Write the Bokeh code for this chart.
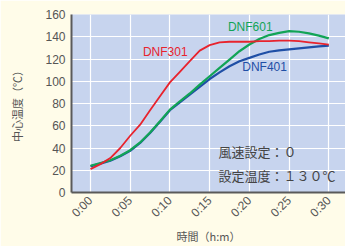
import math
from bokeh.plotting import figure
from bokeh.models import FixedTicker, Label, Range1d
from bokeh.embed import file_html
from bokeh.resources import INLINE

minutes = [0, 1.25, 2.5, 3.75, 5, 6.25, 7.5, 8.75, 10, 11.25, 12.5, 13.75, 15,
           16.25, 17.5, 18.75, 20, 21.25, 22.5, 23.75, 25, 26.25, 27.5, 28.75, 30]
dnf301 = [21, 25.5, 31, 40, 51, 61, 74, 86.5, 99, 108.5, 118, 127.5, 132.5,
          135, 135.5, 135.5, 135.5, 136, 136, 136.5, 136.5, 136, 135, 134, 133]
dnf601 = [24, 26.5, 29, 33, 38, 45, 54, 64, 74.5, 82, 89, 97, 104.5,
          112, 119.5, 127, 133, 138, 141.5, 143.5, 145, 144.5, 143, 141, 138.5]
dnf401 = [23.5, 26, 28.5, 32.5, 37.5, 44.5, 53.5, 63.5, 74, 81, 88, 95, 102,
          108, 113.5, 118, 121, 124, 126.5, 127.8, 128.7, 129.6, 130.5, 131.3, 132]
x_ticks = [0, 5, 10, 15, 20, 25, 30]
x_tick_labels = ["0:00", "0:05", "0:10", "0:15", "0:20", "0:25", "0:30"]
y_ticks = [0, 20, 40, 60, 80, 100, 120, 140, 160]

RED = "#E8232D"
GREEN = "#12A456"
BLUE = "#1F4FA6"
TXT = "#555555"
LATIN = "Liberation Sans"
CJK = "Noto Sans CJK JP"

p = figure(width=345, height=246, output_backend="svg", toolbar_location=None,
           x_range=Range1d(-2.39, 32.1), y_range=Range1d(0, 160),
           min_border_left=71, min_border_right=0, min_border_top=14, min_border_bottom=54)
p.background_fill_color = "#C7D4EE"
p.border_fill_color = "#FFFCE9"
p.outline_line_color = None

p.xaxis.ticker = FixedTicker(ticks=x_ticks)
p.xaxis.major_label_overrides = {t: l for t, l in zip(x_ticks, x_tick_labels)}
p.xaxis.major_label_orientation = math.pi / 4
p.yaxis.ticker = FixedTicker(ticks=y_ticks)

for ax in (p.xaxis, p.yaxis):
    ax.axis_line_color = "#5A5A5A"
    ax.axis_line_width = 2
    ax.major_tick_line_color = None
    ax.minor_tick_line_color = None
    ax.major_tick_out = 0
    ax.major_tick_in = 0
    ax.major_label_text_font = LATIN
    ax.major_label_text_font_size = "12px"
    ax.major_label_text_color = TXT
    ax.axis_label_text_font = CJK
    ax.axis_label_text_font_size = "11px"
    ax.axis_label_text_font_style = "normal"
    ax.axis_label_text_color = TXT

p.xaxis.major_label_standoff = 6
p.yaxis.major_label_standoff = 6
p.yaxis.axis_label = "中心温度（℃）"
p.yaxis.axis_label_standoff = 17
p.xaxis.axis_label = "時間（h:m）"
p.xaxis.axis_label_standoff = 0

p.xgrid.grid_line_color = "white"
p.ygrid.grid_line_color = "white"
p.xgrid.grid_line_width = 1.2
p.ygrid.grid_line_width = 1.2

p.line(minutes, dnf401, line_color=BLUE, line_width=2.2)
p.line(minutes, dnf601, line_color=GREEN, line_width=2.2)
p.line(minutes, dnf301, line_color=RED, line_width=1.8)

for txt, x, y, c in [("DNF301", 6.6, 126, RED), ("DNF601", 17.3, 149, GREEN), ("DNF401", 19.1, 112.4, BLUE)]:
    p.add_layout(Label(x=x, y=y, text=txt, text_color=c, text_font=LATIN,
                       text_font_size="12px", text_baseline="middle"))

for txt, y in [("風速設定：０", 36.8), ("設定温度：１３０℃", 14.9)]:
    p.add_layout(Label(x=16.1, y=y, text=txt, text_color="#444444", text_font=CJK,
                       text_font_size="13px", text_baseline="middle"))

open("out.html", "w").write(file_html(p, INLINE))
